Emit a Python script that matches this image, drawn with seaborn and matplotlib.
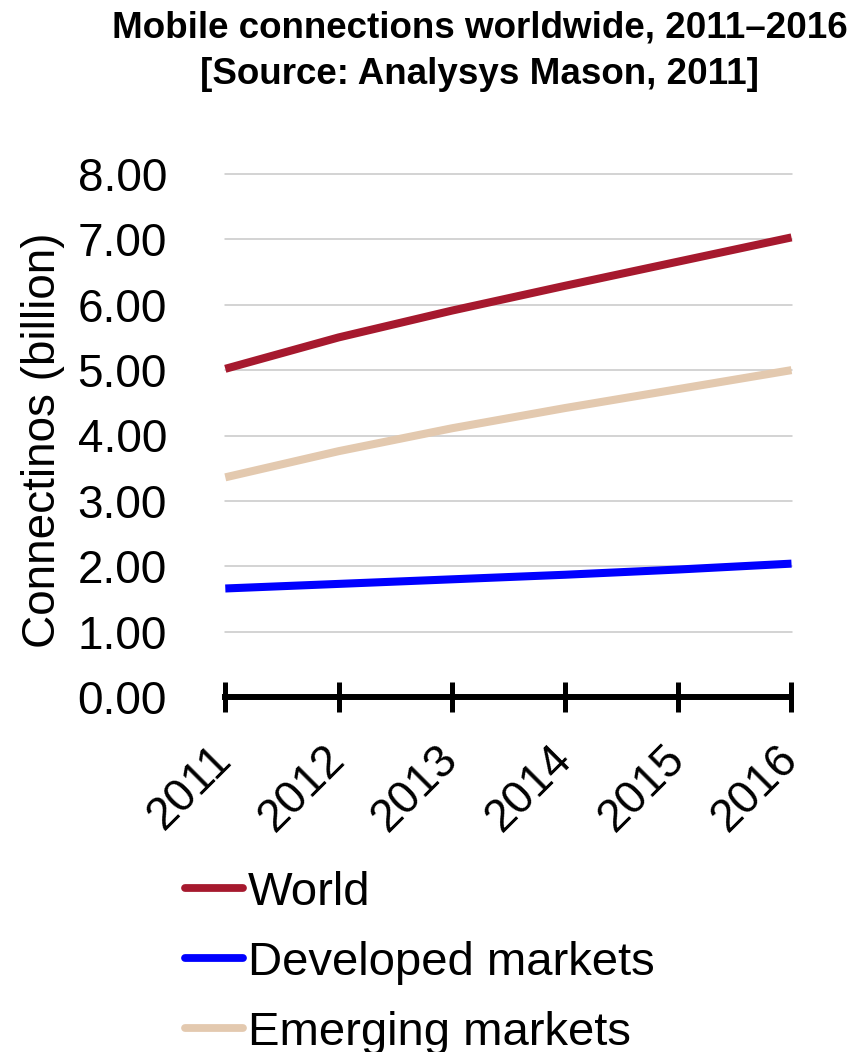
import matplotlib
matplotlib.use("Agg")
import matplotlib.pyplot as plt
import seaborn as sns
import pandas as pd
from matplotlib.ticker import FormatStrFormatter

# Mobile connections (billion) by year
years = [2011, 2012, 2013, 2014, 2015, 2016]
world = [5.02, 5.50, 5.91, 6.29, 6.66, 7.03]
developed = [1.66, 1.73, 1.80, 1.87, 1.95, 2.04]
emerging = [3.36, 3.76, 4.11, 4.42, 4.71, 5.00]

series_names = ["World", "Developed markets", "Emerging markets"]
series_colors = ["#A6192E", "#0000FF", "#E3C9AF"]
y_ticks = [0, 1, 2, 3, 4, 5, 6, 7, 8]

df = pd.DataFrame({
    "Year": years * 3,
    "Connections": world + developed + emerging,
    "Series": [series_names[0]] * len(years)
    + [series_names[1]] * len(years)
    + [series_names[2]] * len(years),
})

sns.set_style("white")
plt.rcParams["font.family"] = ["Liberation Sans", "DejaVu Sans"]
plt.rcParams["text.color"] = "black"
plt.rcParams["xtick.color"] = "black"
plt.rcParams["ytick.color"] = "black"
plt.rcParams["axes.labelcolor"] = "black"

fig = plt.figure(figsize=(8.65, 10.52), dpi=100)
W, H = 865, 1052
left, right, top, bottom = 225.3, 791.5, 174, 697
ax = fig.add_axes([left / W, 1 - bottom / H, (right - left) / W, (bottom - top) / H])

sns.lineplot(
    data=df, x="Year", y="Connections", hue="Series",
    palette=dict(zip(series_names, series_colors)),
    linewidth=5.8, ax=ax, legend=False, solid_capstyle="butt",
)
for ln in ax.get_lines():
    ln.set_clip_on(False)

ax.set_xlim(years[0], years[-1])
ax.set_ylim(0, 8)
ax.set_xticks(years)
ax.set_xticklabels([str(y) for y in years], rotation=45, ha="right",
                   va="center", rotation_mode="anchor", fontsize=33,
                   color="black")
ax.set_yticks(y_ticks)
ax.yaxis.set_major_formatter(FormatStrFormatter("%.2f"))
ax.tick_params(axis="y", left=False, length=0, pad=42, labelsize=33,
               labelcolor="black")
ax.tick_params(axis="x", bottom=True, direction="inout", length=21.6,
               width=3.6, color="black", pad=29.5)
ax.set_xlabel("")
ax.set_ylabel("")

ax.yaxis.grid(True, color="#C8C8C8", linewidth=1.1)
ax.xaxis.grid(False)
for g in ax.get_ygridlines():
    g.set_clip_on(False)
ax.set_axisbelow(True)

for s in ["left", "top", "right"]:
    ax.spines[s].set_visible(False)
ax.spines["bottom"].set_color("black")
ax.spines["bottom"].set_linewidth(4.3)
ax.spines["bottom"].set_zorder(5)

fig.text(43 / W, 1 - 440 / H, "Connectinos (billion)", rotation=90,
         ha="center", va="center", fontsize=33, color="black")

fig.text(480 / W, 1 - 37.5 / H, "Mobile connections worldwide, 2011\u20132016",
         ha="center", va="baseline", fontsize=26.5, fontweight="bold",
         color="black")
fig.text(480 / W, 1 - 83.5 / H, "[Source: Analysys Mason, 2011]",
         ha="center", va="baseline", fontsize=26.5, fontweight="bold",
         color="black")

handles = [plt.Line2D([], [], color=c, linewidth=5.6, solid_capstyle="round")
           for c in series_colors]
leg = fig.legend(handles, series_names, loc="upper left",
                 bbox_to_anchor=(185 / W, 1 - 871 / H), frameon=False,
                 fontsize=34, borderaxespad=0, borderpad=0,
                 handlelength=1.23, handletextpad=0.1, labelspacing=0.55)
for t in leg.get_texts():
    t.set_color("black")

fig.savefig("out.png", dpi=100)
